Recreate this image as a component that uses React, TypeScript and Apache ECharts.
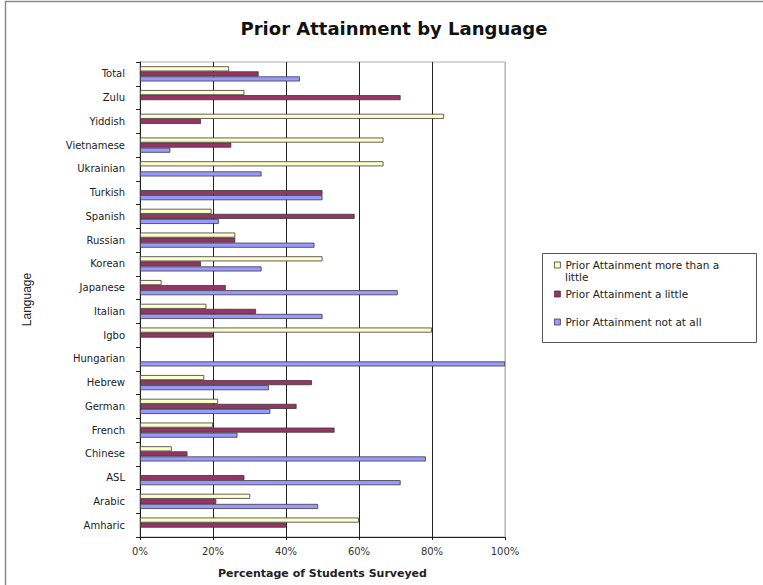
import React, { useEffect, useRef } from "react";
import * as echarts from "echarts";

// Languages, bottom to top as they sit on the category axis
const languages = [
  "Amharic", "Arabic", "ASL", "Chinese", "French", "German", "Hebrew",
  "Hungarian", "Igbo", "Italian", "Japanese", "Korean", "Russian", "Spanish",
  "Turkish", "Ukrainian", "Vietnamese", "Yiddish", "Zulu", "Total",
];

// Percent of students surveyed, per language
const moreThanALittle = [
  60.0, 30.2, 0, 8.7, 20.0, 21.4, 17.6, 0, 80.0, 18.2, 5.9, 50.0, 26.1, 19.6,
  0, 66.7, 66.7, 83.3, 28.6, 24.4,
];
const aLittle = [
  40.0, 20.9, 28.6, 13.0, 53.3, 42.9, 47.1, 0, 20.0, 31.8, 23.5, 16.7, 26.1,
  58.8, 50.0, 0, 25.0, 16.7, 71.4, 32.5,
];
const notAtAll = [
  0, 48.8, 71.4, 78.3, 26.7, 35.7, 35.3, 100.0, 0, 50.0, 70.6, 33.3, 47.8,
  21.6, 50.0, 33.3, 8.3, 0, 0, 43.8,
];

const xTicks = [0, 20, 40, 60, 80, 100];

const seriesNames = [
  "Prior Attainment more than a little",
  "Prior Attainment a little",
  "Prior Attainment not at all",
];
// the first legend entry wraps onto a second line
const firstLegendLines = ["Prior Attainment more than a", "little"];
const seriesColors = ["#FFFFCC", "#993366", "#9999FF"];

const FONT = "DejaVu Sans";

export default function App() {
  const ref = useRef<HTMLDivElement>(null);

  useEffect(() => {
    document.body.style.margin = "0";
    if (!ref.current) return;
    const chart = echarts.init(ref.current, null, { renderer: "svg" });

    const toData = (arr: number[]) => arr.map((v) => (v === 0 ? null : v));
    const values = [moreThanALittle, aLittle, notAtAll];

    const barStyle = (i: number) => ({
      color: seriesColors[i],
      borderColor: "#3a3a3a",
      borderWidth: 0.8,
    });

    const series = [0, 1, 2].map((i) => ({
      name: seriesNames[i],
      type: "bar",
      data: toData(values[i]),
      itemStyle: barStyle(i),
      barGap: "0%",
      barCategoryGap: "36%",
      emphasis: { disabled: true },
    }));

    const legendLeft = 554;
    const legendTops = [259, 288, 316];
    const legendText = {
      fontFamily: FONT,
      fontSize: 10.5,
      color: "#222",
      lineHeight: 12,
    };
    const legends = [0, 1, 2].map((i) => ({
      show: true,
      orient: "vertical",
      left: legendLeft,
      top: legendTops[i],
      data: [seriesNames[i]],
      selectedMode: false,
      icon: "rect",
      itemWidth: 6,
      itemHeight: 6,
      padding: 0,
      formatter: (name: string) =>
        name === seriesNames[0] ? firstLegendLines[0] : name,
      textStyle: legendText,
      itemStyle: { borderColor: "#3a3a3a", borderWidth: 0.8 },
    }));

    chart.setOption({
      animation: false,
      backgroundColor: "#ffffff",
      title: {
        text: "Prior Attainment by Language",
        left: 389,
        top: 14,
        textAlign: "center",
        textStyle: {
          fontFamily: FONT,
          fontSize: 18,
          fontWeight: "bold",
          color: "#111",
        },
      },
      legend: legends,
      grid: {
        left: 140,
        right: 258,
        top: 62,
        bottom: 48,
        show: true,
        borderColor: "#c8c8c8",
        borderWidth: 1.5,
        containLabel: false,
      },
      xAxis: {
        type: "value",
        min: xTicks[0],
        max: xTicks[xTicks.length - 1],
        interval: 20,
        name: "Percentage of Students Surveyed",
        nameLocation: "middle",
        nameGap: 31,
        nameTextStyle: {
          fontFamily: FONT,
          fontSize: 11,
          fontWeight: "bold",
          color: "#222",
        },
        axisLine: { show: true, lineStyle: { color: "#222", width: 1 } },
        axisTick: { show: true, length: 3, lineStyle: { color: "#222" } },
        axisLabel: {
          formatter: "{value}%",
          fontFamily: FONT,
          fontSize: 10,
          color: "#333",
          margin: 9,
        },
        splitLine: {
          show: true,
          lineStyle: {
            color: ["#222", "#222", "#222", "#222", "#222", "#b8b8b8"],
            width: 1,
          },
        },
      },
      yAxis: {
        type: "category",
        data: languages,
        name: "Language",
        nameLocation: "middle",
        nameRotate: 90,
        nameGap: 107,
        nameTextStyle: {
          fontFamily: "Liberation Sans",
          fontSize: 12,
          color: "#222",
        },
        axisLine: { show: true, lineStyle: { color: "#222", width: 1 } },
        axisTick: {
          show: true,
          length: 4,
          alignWithLabel: false,
          lineStyle: { color: "#222" },
        },
        axisLabel: {
          fontFamily: FONT,
          fontSize: 10,
          color: "#222",
          margin: 15,
          interval: 0,
        },
        splitLine: { show: false },
      },
      graphic: [
        {
          type: "rect",
          shape: { x: 5.5, y: 1.5, width: 800, height: 700 },
          style: { fill: "none", stroke: "#8a8a8a", lineWidth: 1.5 },
          silent: true,
        },
        {
          type: "rect",
          shape: { x: 542.5, y: 253.5, width: 214, height: 89 },
          style: { fill: "none", stroke: "#555", lineWidth: 1 },
          silent: true,
        },
        {
          type: "text",
          x: legendLeft + 6 + 5,
          y: legendTops[0] + 6 + 12,
          silent: true,
          style: {
            text: firstLegendLines[1],
            fontFamily: FONT,
            fontSize: 10.5,
            fill: "#222",
            verticalAlign: "middle",
          },
        },
      ],
      series,
    });

    return () => chart.dispose();
  }, []);

  return <div ref={ref} style={{ width: 763, height: 585 }} />;
}
